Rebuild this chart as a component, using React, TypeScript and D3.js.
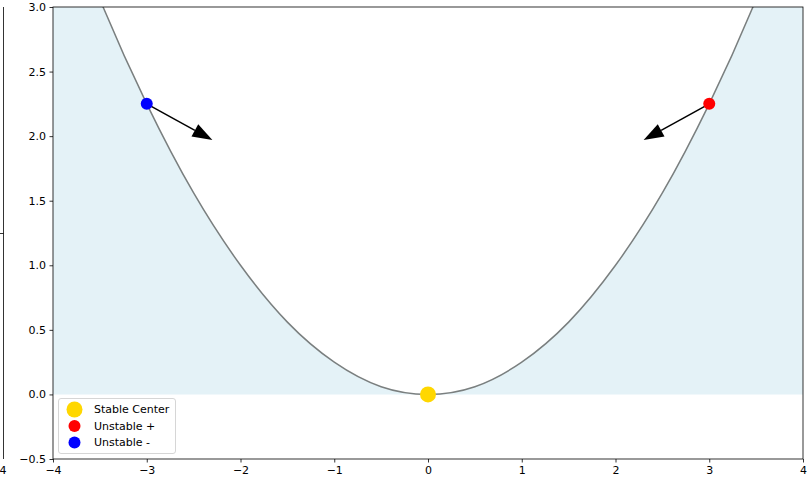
import React, { useEffect, useRef } from "react";
import * as d3 from "d3";

// parabola samples
const curveX = [-4, -3.5, -3, -2.5, -2, -1.5, -1, -0.5, 0, 0.5, 1, 1.5, 2, 2.5, 3, 3.5, 4];
const curveY = [4.0, 3.06, 2.25, 1.56, 1.0, 0.56, 0.25, 0.06, 0, 0.06, 0.25, 0.56, 1.0, 1.56, 2.25, 3.06, 4.0];

const xTicks = [-4, -3, -2, -1, 0, 1, 2, 3, 4];
const yTicks = [-0.5, 0.0, 0.5, 1.0, 1.5, 2.0, 2.5, 3.0];

const pointNames = ["Stable Center", "Unstable +", "Unstable -"];
const pointX = [0, 3, -3];
const pointY = [0, 2.25, 2.25];
const pointColors = ["gold", "red", "blue"];
const pointSizes = [8, 6, 6];

// arrows: start -> tip
const arrowFrom = [[-3, 2.25], [3, 2.25]];
const arrowTo = [[-2.3, 1.97], [2.3, 1.97]];

const App: React.FC = () => {
  const svgRef = useRef<SVGSVGElement | null>(null);

  useEffect(() => {
    const width = 807;
    const height = 479;
    const margin = { top: 7, right: 4, bottom: 20, left: 53 };
    const font = "11px";

    const svg = d3.select(svgRef.current).attr("width", width).attr("height", height);
    svg.selectAll("*").remove();

    const x = d3.scaleLinear().domain([-4, 4]).range([margin.left, width - margin.right]);
    const y = d3.scaleLinear().domain([-0.5, 3.0]).range([height - margin.bottom, margin.top]);

    svg.append("rect").attr("width", width).attr("height", height).attr("fill", "white");

    // cut-off neighbouring panel on the far left
    svg.append("line").attr("x1", 3.5).attr("x2", 3.5).attr("y1", y(3.0)).attr("y2", y(-0.5))
      .attr("stroke", "black").attr("stroke-width", 0.8);
    svg.append("line").attr("x1", 0).attr("x2", 3.5).attr("y1", 233.5).attr("y2", 233.5)
      .attr("stroke", "black").attr("stroke-width", 0.8);
    svg.append("text").attr("x", 3).attr("y", y(-0.5) + 15).attr("text-anchor", "middle")
      .style("font-family", "DejaVu Sans").style("font-size", font).text("4");

    svg.append("clipPath").attr("id", "plotclip").append("rect")
      .attr("x", margin.left).attr("y", margin.top)
      .attr("width", width - margin.left - margin.right)
      .attr("height", height - margin.top - margin.bottom);

    const pts = curveX.map((v, i) => [v, curveY[i]] as [number, number]);
    const g = svg.append("g").attr("clip-path", "url(#plotclip)");

    const area = d3.area<[number, number]>()
      .x((d) => x(d[0])).y0(y(0)).y1((d) => y(d[1])).curve(d3.curveNatural);
    g.append("path").datum(pts).attr("d", area).attr("fill", "lightblue").attr("fill-opacity", 0.33);

    const line = d3.line<[number, number]>().x((d) => x(d[0])).y((d) => y(d[1])).curve(d3.curveNatural);
    g.append("path").datum(pts).attr("d", line).attr("fill", "none")
      .attr("stroke", "#7a7f7f").attr("stroke-width", 1.5);

    // arrows
    arrowFrom.forEach((s, i) => {
      const t = arrowTo[i];
      const x0 = x(s[0]), y0 = y(s[1]), x1 = x(t[0]), y1 = y(t[1]);
      const ang = Math.atan2(y1 - y0, x1 - x0);
      const hl = 20, hw = 7;
      const bx = x1 - hl * Math.cos(ang), by = y1 - hl * Math.sin(ang);
      g.append("line").attr("x1", x0).attr("y1", y0).attr("x2", bx).attr("y2", by)
        .attr("stroke", "black").attr("stroke-width", 1.5);
      const px = -Math.sin(ang), py = Math.cos(ang);
      g.append("polygon")
        .attr("points", `${x1},${y1} ${bx + hw * px},${by + hw * py} ${bx - hw * px},${by - hw * py}`)
        .attr("fill", "black");
    });

    // points
    g.selectAll("circle.pt").data(pointX).enter().append("circle")
      .attr("cx", (d) => x(d)).attr("cy", (_d, i) => y(pointY[i]))
      .attr("r", (_d, i) => pointSizes[i]).attr("fill", (_d, i) => pointColors[i]);

    // axes
    const xAxis = svg.append("g").attr("transform", `translate(0,${height - margin.bottom})`)
      .call(d3.axisBottom(x).tickValues(xTicks).tickSize(3.5).tickPadding(3.5).tickSizeOuter(0)
        .tickFormat((d) => d3.format("d")(d as number).replace("-", "\u2212")));
    const yAxis = svg.append("g").attr("transform", `translate(${margin.left},0)`)
      .call(d3.axisLeft(y).tickValues(yTicks).tickSize(3.5).tickPadding(3.5).tickSizeOuter(0)
        .tickFormat((d) => d3.format(".1f")(d as number).replace("-", "\u2212")));
    [xAxis, yAxis].forEach((a) => {
      a.select(".domain").remove();
      a.selectAll("text").style("font-family", "DejaVu Sans").style("font-size", font).style("fill", "black");
      a.selectAll("line").attr("stroke", "black").attr("stroke-width", 0.8);
    });

    svg.append("rect")
      .attr("x", margin.left).attr("y", margin.top)
      .attr("width", width - margin.left - margin.right)
      .attr("height", height - margin.top - margin.bottom)
      .attr("fill", "none").attr("stroke", "black").attr("stroke-width", 0.8);

    // legend
    const lg = svg.append("g").attr("transform", `translate(58.5,398.5)`);
    lg.append("rect").attr("width", 117).attr("height", 55).attr("rx", 2.5)
      .attr("fill", "white").attr("fill-opacity", 0.8).attr("stroke", "#cccccc").attr("stroke-width", 0.8);
    pointNames.forEach((name, i) => {
      const cy = 11 + i * 16.5;
      lg.append("circle").attr("cx", 16).attr("cy", cy).attr("r", pointSizes[i]).attr("fill", pointColors[i]);
      lg.append("text").attr("x", 35.5).attr("y", cy).attr("dy", "0.35em")
        .style("font-family", "DejaVu Sans").style("font-size", font).style("fill", "black").text(name);
    });
  }, []);

  return <svg ref={svgRef} style={{ position: "absolute", left: 0, top: 0 }}></svg>;
};

export default App;
